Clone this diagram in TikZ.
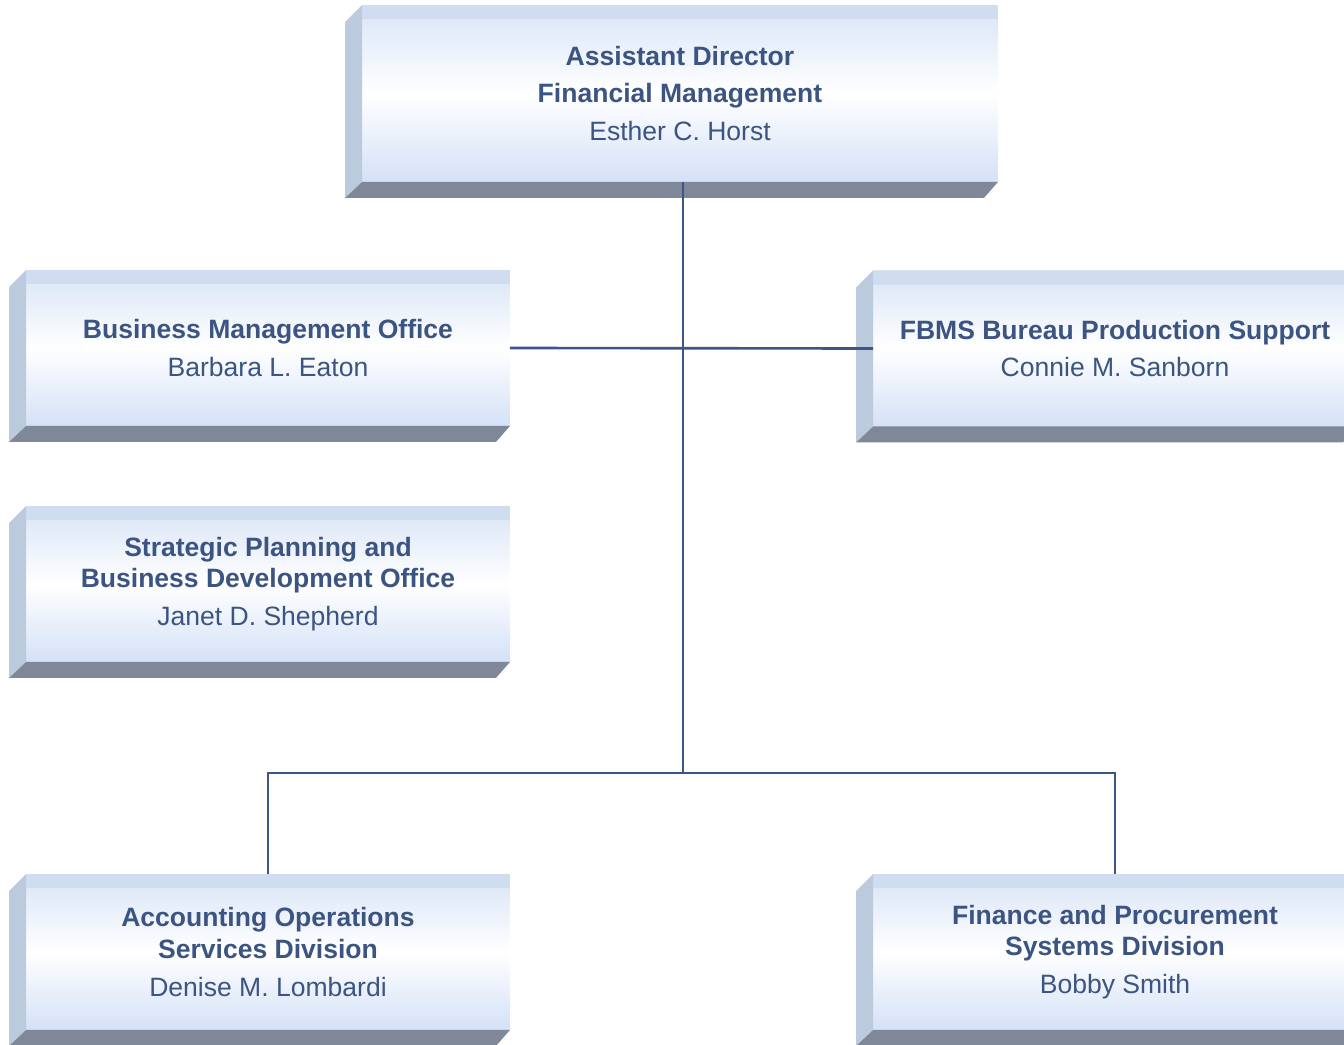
\documentclass[tikz,border=0pt]{standalone}
\usepackage{fontspec}
\setmainfont{Liberation Sans}
\usetikzlibrary{calc}
\definecolor{orgtext}{RGB}{59,84,130}
\definecolor{orgline}{RGB}{62,85,133}
\definecolor{bevelleft}{RGB}{188,202,221}
\definecolor{bevelbottom}{RGB}{127,136,152}
\definecolor{facetop}{RGB}{216,228,246}
\definecolor{facebottom}{RGB}{212,225,247}
\definecolor{facestrip}{RGB}{208,221,241}
\tikzstyle{face}=[inner sep=0pt,outer sep=0pt,align=center,text=orgtext,
top color=facetop,bottom color=facebottom,middle color=white,
font=\fontsize{15.1}{18.1}\selectfont]
\tikzstyle{unit}=[face,minimum width=9.68cm,minimum height=3.12cm]
\tikzstyle{head}=[face,minimum width=12.72cm,minimum height=3.54cm]
\tikzstyle{link}=[orgline,line width=1.5pt]

\begin{document}
\begin{tikzpicture}[x=.02cm,y=-.02cm]
	\useasboundingbox (0,0) rectangle (1344,1044);

	% boxes
	\node[head] (ad) at (680,93.5) {\textbf{Assistant Director}\\[3.4pt]
		\textbf{Financial Management}\\[3.4pt]Esther C. Horst};
	\node[unit] (bmo) at (268,348) {\textbf{Business Management Office}\\[3.4pt]
		Barbara L. Eaton};
	\node[unit] (fbms) at (1115,348.5) {\textbf{FBMS Bureau Production Support}\\[3.4pt]
		Connie M. Sanborn};
	\node[unit] (spbd) at (268,584) {\textbf{Strategic Planning and}\\
		\textbf{Business Development Office}\\[3.4pt]Janet D. Shepherd};
	\node[unit] (aosd) at (268,952) {\textbf{Accounting Operations}\\
		\textbf{Services Division}\\[3.4pt]Denise M. Lombardi};
	\node[unit] (fpsd) at (1115,952) {\textbf{Finance and Procurement}\\
		\textbf{Systems Division}\\[3.4pt]Bobby Smith};

	% bevels
	\foreach \n in {ad,bmo,fbms,spbd,aosd,fpsd} {
		\fill[facestrip] (\n.north west) rectangle ($(\n.north east)+(0,14)$);
		\fill[bevelleft] (\n.north west) -- ++(-17,17)
		-- ($(\n.south west)+(-17,16)$) -- (\n.south west) -- cycle;
		\fill[bevelbottom] (\n.south west) -- ++(-17,16)
		-- ($(\n.south east)+(-14,16)$) -- (\n.south east) -- cycle;
	}

	% connectors
	\coordinate (hub) at (683,773);
	\draw[link] (ad.south -| hub) -- (hub);
	\draw[link] (bmo.east) -- (fbms.west);
	\draw[link] ($(spbd.east)+(0,12)$) -- ($(spbd.east)+(0,12)$ -| hub);
	\draw[link] (aosd.north) |- (hub) -| (fpsd.north);
\end{tikzpicture}
\end{document}
